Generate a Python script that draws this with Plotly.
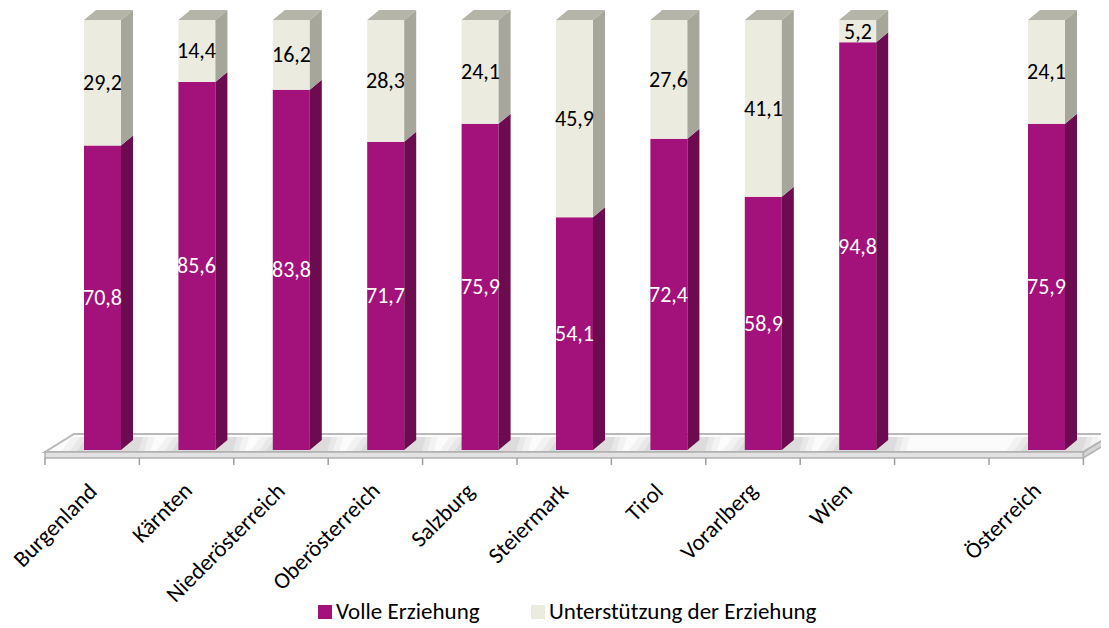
import plotly.graph_objects as go

# ---------------- data ----------------
categories = ["Burgenland", "Kärnten", "Niederösterreich", "Oberösterreich", "Salzburg",
              "Steiermark", "Tirol", "Vorarlberg", "Wien", "Österreich"]
slots = [0, 1, 2, 3, 4, 5, 6, 7, 8, 10]          # category slot index (slot 9 left empty)
volle = [70.8, 85.6, 83.8, 71.7, 75.9, 54.1, 72.4, 58.9, 94.8, 75.9]
unterstuetzung = [29.2, 14.4, 16.2, 28.3, 24.1, 45.9, 27.6, 41.1, 5.2, 24.1]
series_names = ["Volle Erziehung", "Unterstützung der Erziehung"]

# ---------------- style ----------------
OFF = 8                      # page body margin
W, H = 1109 - OFF, 628 - OFF
FONT = "Calibri, Carlito, Lato, sans-serif"
C_FRONT = ["#a3117b", "#ecebdf"]
C_SIDE = ["#6c0b50", "#a6a69b"]
C_TOP = "#b4b4a9"

# window-pixel -> data helpers
X0PX, UX = 102.5, 94.4
Y0PX, UY = 450.0, 4.3
def xd(px): return (px - X0PX) / UX
def yd(py): return (Y0PX - py) / UY
def xp(px): return (px - OFF) / W
def yp(py): return 1 - (py - OFF) / H

BAR_W = 37 / UX
DX, DY = 12 / UX, 10 / UY
NSLOTS = 11
FX0 = xd(45)
FX1 = FX0 + NSLOTS
FDX = 29 / UX
yF, yB, yF2 = yd(452), yd(434), yd(458)

fig = go.Figure()

bases = [0] * len(slots)
tops = [v + u for v, u in zip(volle, unterstuetzung)]
fig.add_trace(go.Bar(x=slots, y=volle, width=BAR_W, marker=dict(color=C_FRONT[0], line=dict(width=0)),
                     name=series_names[0], showlegend=False, hoverinfo="skip"))
fig.add_trace(go.Bar(x=slots, y=unterstuetzung, base=volle, width=BAR_W,
                     marker=dict(color=C_FRONT[1], line=dict(width=0)),
                     name=series_names[1], showlegend=False, hoverinfo="skip"))

def side_poly(lo_list, hi_list):
    xs, ys = [], []
    for s, lo, hi in zip(slots, lo_list, hi_list):
        xr = s + BAR_W / 2
        xs += [xr, xr + DX, xr + DX, xr, xr, None]
        ys += [lo, lo + DY, hi + DY, hi, lo, None]
    return xs, ys

for k, (lo, hi) in enumerate([(bases, volle), (volle, tops)]):
    xs, ys = side_poly(lo, hi)
    fig.add_trace(go.Scatter(x=xs, y=ys, fill="toself", fillcolor=C_SIDE[k], mode="lines",
                             line=dict(width=0, color=C_SIDE[k]), showlegend=False, hoverinfo="skip"))

xs, ys = [], []
for s, t in zip(slots, tops):
    xl, xr = s - BAR_W / 2, s + BAR_W / 2
    xs += [xl, xr, xr + DX, xl + DX, xl, None]
    ys += [t, t, t + DY, t + DY, t, None]
fig.add_trace(go.Scatter(x=xs, y=ys, fill="toself", fillcolor=C_TOP, mode="lines",
                         line=dict(width=0, color=C_TOP), showlegend=False, hoverinfo="skip"))

shapes = []
shapes.append(dict(type="path", xref="x", yref="y", layer="below",
                   path=f"M{FX0},{yF} L{FX1},{yF} L{FX1+FDX},{yB} L{FX0+FDX},{yB} Z",
                   fillcolor="#fbfbfb", line=dict(color="#b8b8b8", width=2)))
# soft shadows around bar bases on the floor
for s in slots:
    for spread, op in [(22, 0.07), (14, 0.09), (7, 0.11)]:
        xl = s - BAR_W / 2 - spread / UX
        xr = s + BAR_W / 2 + DX + spread / UX * 0.8
        y0s, y1s = yd(451), yd(437)
        shapes.append(dict(type="path", xref="x", yref="y", layer="below",
                           path=f"M{xl},{y0s} L{xr},{y0s} L{xr+4/UX},{y1s} L{xl+10/UX},{y1s} Z",
                           fillcolor="#808080", opacity=op, line=dict(width=0)))
shapes.append(dict(type="path", xref="x", yref="y", layer="below",
                   path=f"M{FX0},{yF} L{FX1},{yF} L{FX1},{yF2} L{FX0},{yF2} Z",
                   fillcolor="#e2e2e2", line=dict(color="#b0b0b0", width=1.5)))
shapes.append(dict(type="path", xref="x", yref="y", layer="below",
                   path=f"M{FX1},{yF} L{FX1+FDX},{yB} L{FX1+FDX},{yB-(yF-yF2)} L{FX1},{yF2} Z",
                   fillcolor="#d4d4d4", line=dict(color="#b0b0b0", width=1.5)))
for k in range(NSLOTS + 1):
    shapes.append(dict(type="line", xref="x", yref="y", x0=FX0 + k, x1=FX0 + k,
                       y0=yF2, y1=yd(465), line=dict(color="#a0a0a0", width=1.5)))

annotations = []
def fmt(v): return f"{v:.1f}".replace(".", ",")
for s, v, u in zip(slots, volle, unterstuetzung):
    annotations.append(dict(x=s, y=v / 2, xref="x", yref="y", text=fmt(v), showarrow=False,
                            font=dict(family=FONT, size=22, color="white")))
    annotations.append(dict(x=s, y=v + u / 2, xref="x", yref="y", text=fmt(u), showarrow=False,
                            font=dict(family=FONT, size=22, color="black")))
for s, c in zip(slots, categories):
    annotations.append(dict(x=FX0 + s + 0.5 + 13 / UX, y=yd(474), xref="x", yref="y", text=c,
                            showarrow=False, textangle=-45, xanchor="right", yanchor="top",
                            font=dict(family=FONT, size=23, color="black")))

leg = [(318, series_names[0], C_FRONT[0]), (531, series_names[1], C_FRONT[1])]
for px, name, col in leg:
    shapes.append(dict(type="rect", xref="paper", yref="paper",
                       x0=xp(px), x1=xp(px + 14), y0=yp(619), y1=yp(605),
                       fillcolor=col, line=dict(width=0)))
    annotations.append(dict(x=xp(px + 16), y=yp(611), xref="paper", yref="paper", text=name,
                            showarrow=False, xanchor="left", yanchor="middle",
                            font=dict(family=FONT, size=23, color="black")))

fig.update_layout(
    width=W, height=H, margin=dict(l=0, r=0, t=0, b=0),
    paper_bgcolor="white", plot_bgcolor="white",
    barmode="overlay", showlegend=False,
    xaxis=dict(range=[xd(OFF), xd(OFF + W)], visible=False, fixedrange=True),
    yaxis=dict(range=[yd(OFF + H), yd(OFF)], visible=False, fixedrange=True),
    shapes=shapes, annotations=annotations,
)
fig.write_html("out.html")
